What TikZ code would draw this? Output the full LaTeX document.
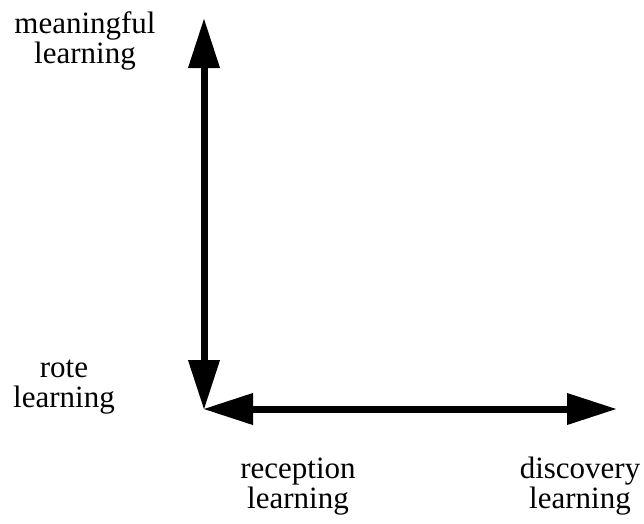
\documentclass[tikz,border=0pt]{standalone}
\usepackage{fontspec}
\setmainfont{Liberation Serif}
\usetikzlibrary{arrows.meta}
\tikzset{
  axis/.style={line width=7pt, {Triangle[length=50pt,width=30pt]}-{Triangle[length=50pt,width=30pt]}},
  lbl/.style={align=center, inner sep=0pt, anchor=base, font=\fontsize{31}{30}\selectfont}
}
\begin{document}
\begin{tikzpicture}[x=1pt,y=-1pt]
\useasboundingbox (0,0) rectangle (644,523);
\coordinate (vtop) at (204,18);
\coordinate (vbot) at (204,410);
\coordinate (hleft) at (203,409);
\coordinate (hright) at (617,409);
\draw[axis] (vbot) -- (vtop);
\draw[axis] (hleft) -- (hright);
\node[lbl] (meaningful) at (85,63) {meaningful\\learning};
\node[lbl] (rote) at (64,407) {rote\\learning};
\node[lbl] (reception) at (298,508) {reception\\learning};
\node[lbl] (discovery) at (580,508) {discovery\\learning};
\end{tikzpicture}
\end{document}
